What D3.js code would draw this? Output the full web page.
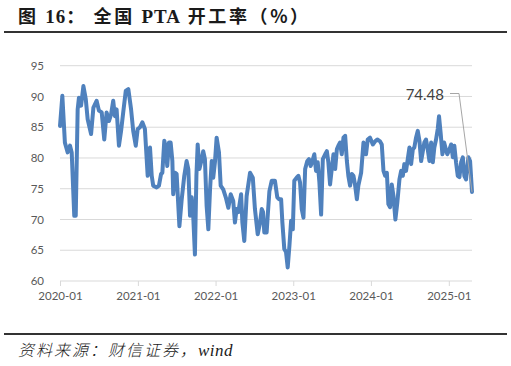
<!DOCTYPE html>
<html><head><meta charset="utf-8">
<script src="https://cdn.jsdelivr.net/npm/d3@7"></script>
<style>html,body{margin:0;padding:0;background:#fff;}svg{display:block;}</style>
</head><body>
<script>
const dates = ["2020-01-01","2020-01-12","2020-01-24","2020-02-06","2020-02-17","2020-02-25","2020-03-08","2020-03-15","2020-03-24","2020-03-30","2020-04-09","2020-04-20","2020-05-01","2020-05-10","2020-05-26","2020-06-06","2020-06-21","2020-07-02","2020-07-15","2020-07-27","2020-08-07","2020-08-18","2020-08-28","2020-09-07","2020-09-15","2020-09-23","2020-10-04","2020-10-14","2020-10-24","2020-11-05","2020-11-17","2020-11-30","2020-12-10","2020-12-22","2020-12-31",
"2021-01-11","2021-01-22","2021-02-03","2021-02-16","2021-02-27","2021-03-07","2021-03-14","2021-03-30","2021-04-10","2021-04-20","2021-04-26","2021-05-05","2021-05-12","2021-05-19","2021-05-27","2021-06-04","2021-06-12","2021-06-16","2021-06-24","2021-07-02","2021-07-15","2021-07-26","2021-08-07","2021-08-18","2021-08-26","2021-09-03","2021-09-11","2021-09-18","2021-09-26","2021-10-03","2021-10-09","2021-10-17","2021-10-28","2021-11-04","2021-11-12","2021-11-20","2021-11-28","2021-12-06","2021-12-14","2021-12-21","2021-12-29",
"2022-01-06","2022-01-17","2022-01-25","2022-02-06","2022-02-18","2022-03-02","2022-03-13","2022-03-25","2022-04-02","2022-04-10","2022-04-18","2022-05-01","2022-05-07","2022-05-16","2022-05-27","2022-06-12","2022-06-25","2022-07-05","2022-07-18","2022-07-29","2022-08-06","2022-08-12","2022-08-18","2022-08-29","2022-09-03","2022-09-11","2022-09-22","2022-10-07","2022-10-18","2022-10-26","2022-11-05","2022-11-11","2022-11-20","2022-11-28","2022-12-06","2022-12-14","2022-12-22","2022-12-30",
"2023-01-06","2023-01-17","2023-01-25","2023-02-02","2023-02-10","2023-02-18","2023-02-26","2023-03-08","2023-03-16","2023-03-24","2023-04-01","2023-04-10","2023-04-18","2023-04-26","2023-05-04","2023-05-12","2023-05-20","2023-05-31","2023-06-08","2023-06-15","2023-06-23","2023-07-01","2023-07-09","2023-07-17","2023-07-25","2023-08-01","2023-08-09","2023-08-17","2023-08-25","2023-09-02","2023-09-10","2023-09-17","2023-09-25","2023-10-03","2023-10-11","2023-10-19","2023-10-27","2023-11-03","2023-11-16","2023-11-27","2023-12-09","2023-12-17","2023-12-28",
"2024-01-10","2024-01-21","2024-01-31","2024-02-13","2024-02-21","2024-02-29","2024-03-08","2024-03-16","2024-03-23","2024-03-31","2024-04-08","2024-04-16","2024-04-25","2024-05-04","2024-05-14","2024-05-22","2024-05-30","2024-06-06","2024-06-14","2024-06-22","2024-06-30","2024-07-08","2024-07-16","2024-07-23","2024-07-31","2024-08-08","2024-08-16","2024-08-24","2024-09-01","2024-09-08","2024-09-16","2024-09-24","2024-10-02","2024-10-10","2024-10-18","2024-10-25","2024-11-02","2024-11-10","2024-11-16","2024-11-24","2024-12-02","2024-12-10","2024-12-18","2024-12-25",
"2025-01-04","2025-01-12","2025-01-20","2025-01-27","2025-02-04","2025-02-12","2025-02-20","2025-02-28","2025-03-08","2025-03-15","2025-03-23","2025-04-03","2025-04-11","2025-04-20"];
const values = [85.2,90.1,82.5,80.9,82.0,80.9,70.6,70.6,87.9,89.8,88.5,91.7,89.6,86.3,83.9,88.2,89.3,87.7,87.4,83.0,87.4,86.0,87.1,89.3,86.8,87.9,82.0,84.4,87.4,90.9,91.2,87.9,84.4,82.0,84.7,
85.0,85.8,84.7,77.1,81.7,77.1,75.5,75.2,75.5,77.4,77.6,82.8,81.7,78.7,82.5,82.5,79.5,74.1,77.6,77.4,68.9,73.3,77.1,79.5,78.2,70.6,73.6,70.6,64.3,77.1,82.2,78.2,79.8,81.1,79.8,72.2,68.4,74.9,79.5,76.8,79.3,
83.3,80.9,75.5,74.9,73.6,71.9,74.1,73.0,69.5,71.7,71.2,74.1,69.5,66.5,73.8,77.6,76.8,71.7,67.6,69.5,71.7,71.2,67.9,67.9,70.6,74.6,76.3,76.3,73.6,73.3,73.3,69.5,65.2,64.7,62.2,65.7,69.8,68.4,
76.3,76.8,77.1,76.0,71.7,70.3,78.2,79.5,79.8,78.7,79.5,80.6,77.9,79.3,76.0,70.8,79.8,80.6,81.1,79.3,75.7,78.2,80.6,78.2,81.4,82.0,82.5,80.6,83.3,83.6,79.5,77.1,75.5,77.4,77.1,75.5,73.3,75.5,77.6,82.5,80.6,83.0,83.3,
82.2,82.7,83.0,82.7,82.2,77.9,77.1,77.6,72.5,72.0,75.7,73.8,70.0,72.7,76.5,77.9,77.1,79.0,77.9,79.8,81.7,79.0,81.4,81.7,83.3,84.4,82.8,79.5,81.1,82.5,83.0,81.4,79.5,82.5,79.3,81.7,83.0,84.7,86.8,83.9,80.6,82.5,81.4,80.6,
81.4,82.2,80.1,82.0,79.3,77.1,76.9,79.3,80.1,77.1,76.5,80.1,79.5,74.48];
const yTicks = [60,65,70,75,80,85,90,95];
const xTickLabels = ["2020-01","2021-01","2022-01","2023-01","2024-01","2025-01"];
const lastLabel = "74.48";

const W = 511, H = 366;
const parse = d3.timeParse("%Y-%m-%d");
const data = dates.map((d,i)=>({date: parse(d), value: values[i]}));

const svg = d3.select("body").append("svg").attr("width", W).attr("height", H);

const x = d3.scaleTime().domain([parse("2020-01-01"), parse("2025-04-20")]).range([60, 472]);
const y = d3.scaleLinear().domain([60, 95]).range([281, 65.7]);

// title
const title = svg.append("text").attr("x", 18).attr("y", 23)
  .attr("font-size", 18).attr("font-weight", "bold").attr("fill", "#1a1a1a")
  .attr("letter-spacing", 2.6)
  .attr("font-family", "'Liberation Serif','Noto Sans CJK SC',serif");
title.append("tspan").attr("font-family","'Noto Sans CJK SC'").text("图 ");
title.append("tspan").attr("font-family","'Liberation Serif'").attr("font-size",19).attr("letter-spacing",1).text("16");
title.append("tspan").attr("font-family","'Noto Sans CJK SC'").text("： 全国 ");
title.append("tspan").attr("font-family","'Liberation Serif'").attr("font-size",19).attr("letter-spacing",1).text("PTA");
title.append("tspan").attr("font-family","'Noto Sans CJK SC'").text(" 开工率（%）");

svg.append("line").attr("x1", 4).attr("x2", 507).attr("y1", 32).attr("y2", 32)
  .attr("stroke", "#333").attr("stroke-width", 2);
svg.append("line").attr("x1", 4).attr("x2", 507).attr("y1", 334).attr("y2", 334)
  .attr("stroke", "#333").attr("stroke-width", 2);

// grid
svg.append("g").selectAll("line").data(yTicks.filter(v=>v!==60)).join("line")
  .attr("x1", 60).attr("x2", 472).attr("y1", d=>y(d)).attr("y2", d=>y(d))
  .attr("stroke", "#d9d9d9").attr("stroke-width", 1);

// y axis labels
const yAxis = d3.axisLeft(y).tickValues(yTicks).tickSize(0).tickPadding(0);
const gy = svg.append("g").attr("transform", "translate(44,0)").call(yAxis);
gy.select(".domain").remove();
gy.selectAll("text").attr("font-family", "Lato, 'Open Sans', sans-serif").attr("font-size", 11.5).attr("fill", "#595959");

// x axis
const xTicks = xTickLabels.map(s=>parse(s+"-01"));
const xAxis = d3.axisBottom(x).tickValues(xTicks).tickSize(5).tickPadding(6).tickFormat(d3.timeFormat("%Y-%m"));
const gx = svg.append("g").attr("transform", `translate(0,${y(60)})`).call(xAxis);
gx.select(".domain").attr("stroke", "#d9d9d9").attr("d", `M60,0H472`);
gx.selectAll(".tick line").attr("stroke", "#d9d9d9");
gx.selectAll("text").attr("font-family", "Lato, 'Open Sans', sans-serif").attr("font-size", 11.5).attr("fill", "#595959");

// line
const line = d3.line().x(d=>x(d.date)).y(d=>y(d.value)).curve(d3.curveLinear);
svg.append("path").datum(data).attr("d", line).attr("fill", "none")
  .attr("stroke", "#4f81bd").attr("stroke-width", 4).attr("stroke-linejoin", "round").attr("stroke-linecap","round");

// annotation
const last = data[data.length-1];
svg.append("path").attr("d", `M450,93.5H459L${x(last.date)},${y(last.value)}`)
  .attr("fill", "none").attr("stroke", "#a6a6a6").attr("stroke-width", 1);
svg.append("text").attr("x", 444).attr("y", 100).attr("text-anchor", "end")
  .attr("font-family", "Lato, 'Open Sans', sans-serif").attr("font-size", 15).attr("fill", "#404040").text(lastLabel);

// source
const src = svg.append("text").attr("x", 18).attr("y", 356).attr("font-size", 16).attr("font-style", "italic").attr("fill", "#1a1a1a").attr("letter-spacing", 2);
src.append("tspan").attr("font-family","'Noto Sans CJK SC'").attr("font-weight", 300).text("资料来源：财信证券，");
src.append("tspan").attr("font-family","'Liberation Serif'").attr("font-size", 17).attr("letter-spacing", 0.5).text("wind");
</script>
</body></html>
